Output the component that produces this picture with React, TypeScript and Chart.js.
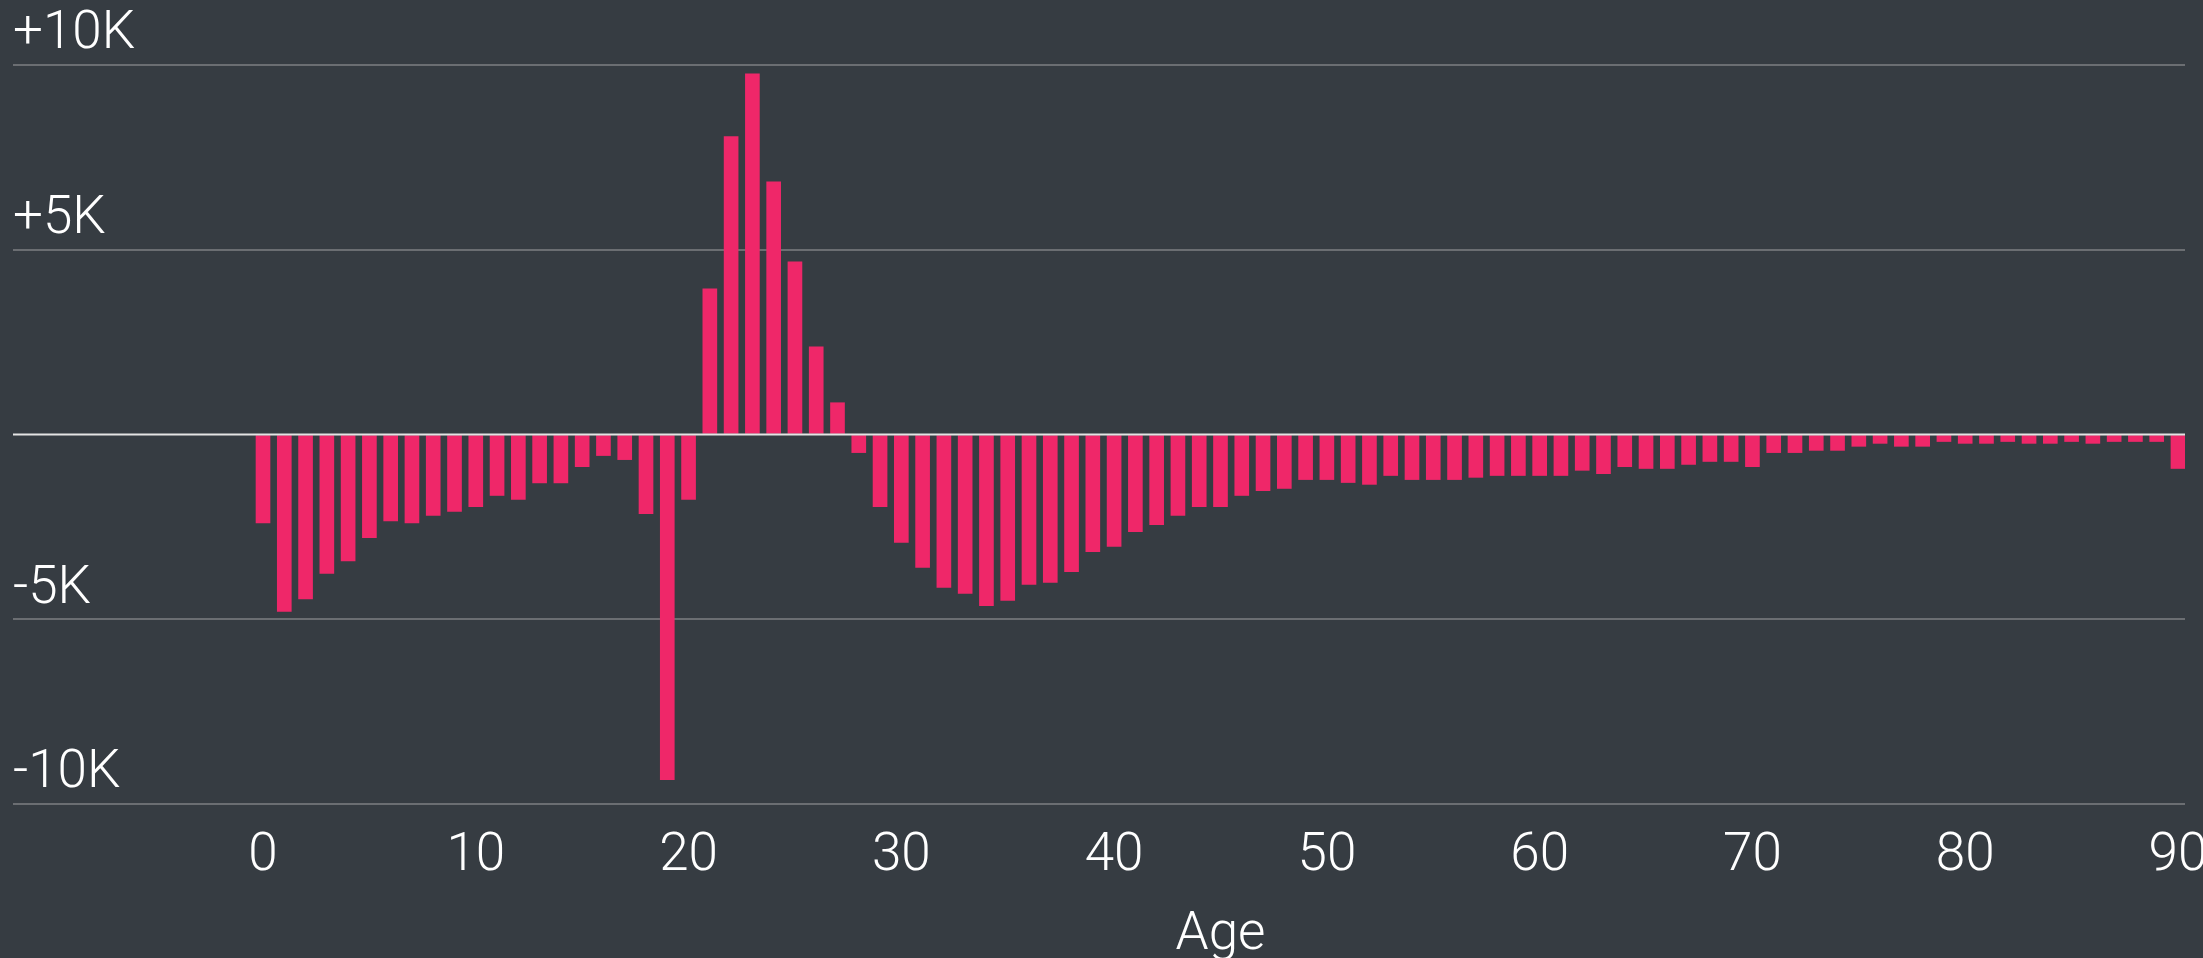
import React, { useEffect, useRef } from 'react';
import { Chart, registerables } from 'chart.js';

Chart.register(...registerables);

// Categories: age in years
const ages = [
  0, 1, 2, 3, 4, 5, 6, 7, 8, 9,
  10, 11, 12, 13, 14, 15, 16, 17, 18, 19,
  20, 21, 22, 23, 24, 25, 26, 27, 28, 29,
  30, 31, 32, 33, 34, 35, 36, 37, 38, 39,
  40, 41, 42, 43, 44, 45, 46, 47, 48, 49,
  50, 51, 52, 53, 54, 55, 56, 57, 58, 59,
  60, 61, 62, 63, 64, 65, 66, 67, 68, 69,
  70, 71, 72, 73, 74, 75, 76, 77, 78, 79,
  80, 81, 82, 83, 84, 85, 86, 87, 88, 89,
  90,
];

// Series: net change per age
const netChange = [
  -2390, -4790, -4450, -3760, -3420, -2790, -2340, -2390, -2190, -2080,
  -1950, -1650, -1760, -1310, -1310, -870, -570, -680, -2140, -9340,
  -1760, 3940, 8060, 9760, 6840, 4670, 2370, 860, -490, -1950,
  -2920, -3600, -4140, -4300, -4630, -4490, -4060, -4000, -3710, -3170,
  -3030, -2630, -2440, -2190, -1950, -1950, -1650, -1520, -1460, -1220,
  -1220, -1300, -1350, -1110, -1220, -1220, -1220, -1160, -1110, -1110,
  -1110, -1110, -970, -1060, -870, -920, -920, -810, -730, -730,
  -870, -490, -490, -430, -430, -320, -240, -320, -320, -190,
  -240, -240, -190, -240, -240, -190, -240, -190, -190, -190,
  -920,
];

// Tick values and labels
const xTickValues = [0, 10, 20, 30, 40, 50, 60, 70, 80, 90];
const yTickValues = [-10000, -5000, 0, 5000, 10000];
const yTickLabels = ['-10K', '-5K', '', '+5K', '+10K'];
const xTitle = 'Age';

const BG = '#363c42';
const BAR = '#ef2769';
const GRID = '#6b6e72';
const ZERO = '#e4e4e4';
const FAMILY = 'Roboto, "Helvetica Neue", Helvetica, Arial, sans-serif';
const FONT = { family: FAMILY, size: 53, weight: '300' as const };

const zeroLinePlugin = {
  id: 'zeroLine',
  afterDatasetsDraw(chart: any) {
    const { ctx, chartArea, scales } = chart;
    const y = scales.y.getPixelForValue(0);
    ctx.save();
    ctx.strokeStyle = ZERO;
    ctx.lineWidth = 2;
    ctx.beginPath();
    ctx.moveTo(chartArea.left, y);
    ctx.lineTo(chartArea.right, y);
    ctx.stroke();
    ctx.restore();
  },
};

// Axis title centred under the data range (0..90), as in the reference
const axisTitlePlugin = {
  id: 'axisTitle',
  afterDraw(chart: any) {
    const { ctx, scales } = chart;
    const x = (scales.x.getPixelForValue(xTickValues[0]) + scales.x.getPixelForValue(xTickValues[xTickValues.length - 1])) / 2;
    ctx.save();
    ctx.fillStyle = '#ffffff';
    ctx.font = `300 53px ${FAMILY}`;
    ctx.textAlign = 'center';
    ctx.textBaseline = 'alphabetic';
    ctx.fillText(xTitle, x, chart.height - 9);
    ctx.restore();
  },
};

export default function App() {
  const canvasRef = useRef<HTMLCanvasElement | null>(null);

  useEffect(() => {
    if (!canvasRef.current) return;
    const chart = new Chart(canvasRef.current, {
      type: 'bar',
      data: {
        datasets: [
          {
            label: 'Net change',
            data: ages.map((a, i) => ({ x: a, y: netChange[i] })),
            backgroundColor: BAR,
            borderWidth: 0,
            barThickness: 14,
          },
        ],
      },
      plugins: [zeroLinePlugin, axisTitlePlugin],
      options: {
        animation: false,
        responsive: true,
        maintainAspectRatio: false,
        layout: { padding: { left: 13, right: 18, top: 65, bottom: 0 } },
        plugins: {
          legend: { display: false },
          tooltip: { enabled: false },
        },
        scales: {
          x: {
            type: 'linear',
            offset: false,
            min: -11.75,
            max: 90.33,
            grid: { display: false, drawTicks: false },
            border: { display: false },
            afterBuildTicks: (scale: any) => {
              scale.ticks = xTickValues.map((v) => ({ value: v }));
            },
            afterFit: (scale: any) => {
              scale.paddingLeft = 0;
              scale.paddingRight = 0;
              scale.height = 154;
            },
            ticks: {
              autoSkip: false,
              maxRotation: 0,
              padding: 21,
              color: '#ffffff',
              font: FONT,
              callback: (v: any) => String(v),
            },
            title: { display: false },
          },
          y: {
            min: -10000,
            max: 10000,
            afterBuildTicks: (scale: any) => {
              scale.ticks = yTickValues.map((v) => ({ value: v }));
            },
            afterFit: (scale: any) => {
              scale.paddingTop = 0;
              scale.paddingBottom = 0;
              scale.width = 0;
            },
            grid: {
              drawTicks: false,
              lineWidth: 2,
              color: (c: any) => (c.tick && c.tick.value === 0 ? 'rgba(0,0,0,0)' : GRID),
            },
            border: { display: false },
            ticks: {
              mirror: true,
              padding: 0,
              labelOffset: -30,
              color: '#ffffff',
              font: FONT,
              callback: (v: any) => {
                const idx = yTickValues.indexOf(Number(v));
                return idx >= 0 ? yTickLabels[idx] : '';
              },
            },
          },
        },
      },
    });
    return () => chart.destroy();
  }, []);

  return (
    <div
      style={{
        position: 'fixed',
        left: 0,
        top: 0,
        width: '100vw',
        height: '100vh',
        background: BG,
      }}
    >
      <canvas ref={canvasRef} />
    </div>
  );
}
